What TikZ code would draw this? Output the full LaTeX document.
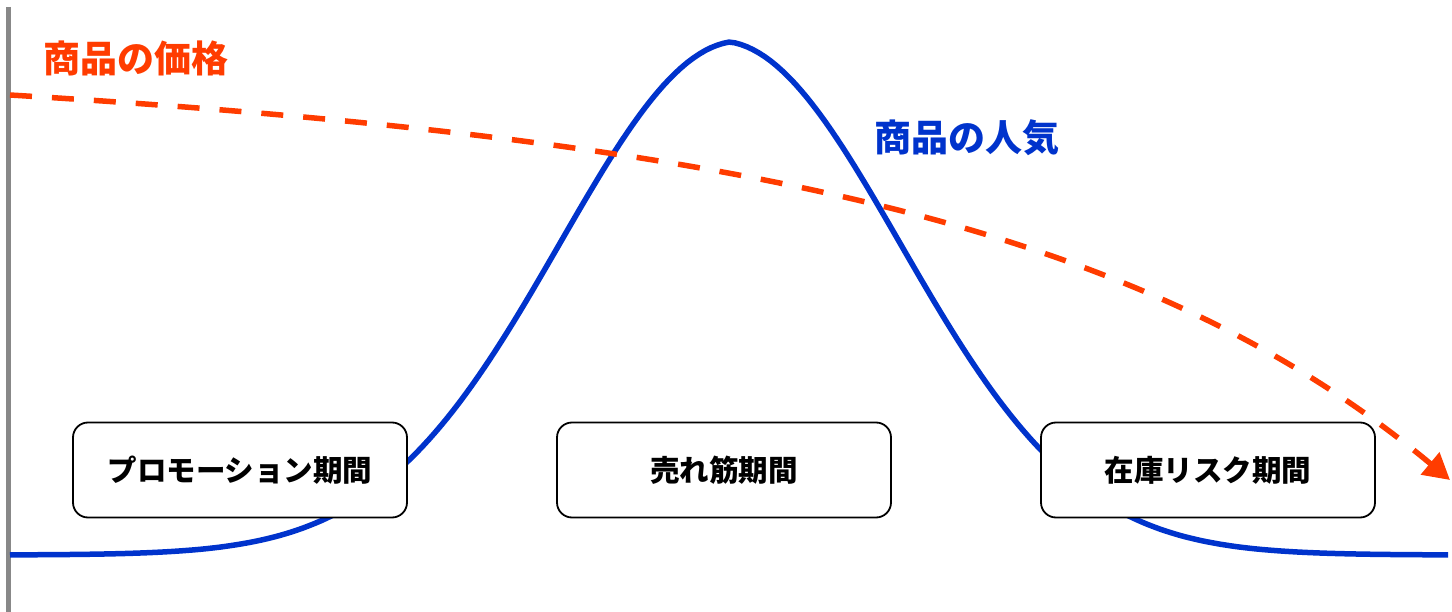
\documentclass[tikz,border=0pt]{standalone}
\usepackage{fontspec}
\usepackage{tikz}
\usetikzlibrary{arrows.meta}
\newfontfamily\jpfont{Noto Sans CJK JP}
\definecolor{pricered}{RGB}{255,60,0}
\definecolor{popblue}{RGB}{0,51,204}
\definecolor{axisgray}{RGB}{136,136,136}

\begin{document}
\begin{tikzpicture}[x=1pt,y=-1pt]
  \tikzset{period/.style = {shape=rectangle,draw,fill=white,rounded corners=15pt,line width=1.8pt,minimum width=334pt,minimum height=95pt,font=\jpfont\bfseries\fontsize{29.5}{32}\selectfont}}
  \tikzset{curvelabel/.style = {font=\jpfont\bfseries\fontsize{37}{40}\selectfont}}
  \useasboundingbox (0,0) rectangle (1452,612);
  % axis
  \coordinate (top) at (8,7);
  \coordinate (bottom) at (8,612);
  \draw[axisgray,line width=5pt] (top) -- (bottom);
  % popularity
  \draw[popblue,line width=5.5pt,line join=miter] plot[domain=10:1448,samples=241] (\x,{555-513*exp(-0.0003*abs(\x-730)-((\x-730)/180)^2/2)});
  % price
  \coordinate (pstart) at (10,95);
  \coordinate (pend) at (1450,480);
  \draw[pricered,line width=5.5pt,dash pattern=on 22pt off 20pt,-{Triangle[length=26pt,width=28pt]}]
    (pstart) .. controls (750,140) and (1150,230) .. (pend);
	\node[curvelabel,text=pricered] (price) at (136,58) {商品の価格};
	\node[curvelabel,text=popblue] (popularity) at (967,138) {商品の人気};

	\node[period] (promo) at (240,470) {プロモーション期間};
	\node[period] (prime) at (724,470) {売れ筋期間};
	\node[period] (risk) at (1208,470) {在庫リスク期間};
\end{tikzpicture}
\end{document}
